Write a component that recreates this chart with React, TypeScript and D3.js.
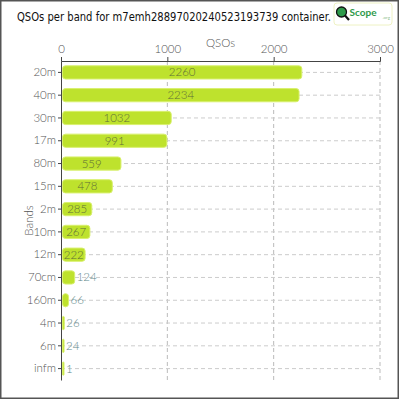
import * as d3 from 'd3';
import { useEffect, useRef } from 'react';

const BANDS = ['20m', '40m', '30m', '17m', '80m', '15m', '2m', '10m', '12m', '70cm', '160m', '4m', '6m', 'infm'];
const QSOS = [2260, 2234, 1032, 991, 559, 478, 285, 267, 222, 124, 66, 26, 24, 1];
const X_TICKS = [0, 1000, 2000, 3000];
const TITLE = 'QSOs per band for m7emh28897020240523193739 container.';

const WIDTH = 400;
const HEIGHT = 400;
const MARGINS = { top: 61, right: 20, bottom: 20, left: 61 };
const FONT = 'Lato, "Open Sans", sans-serif';
const TITLE_WIDTH = 314;

export default function App() {
  const xAxisRef = useRef<SVGGElement>(null);
  const yAxisRef = useRef<SVGGElement>(null);
  const titleRef = useRef<SVGTextElement>(null);

  const x = d3
    .scaleLinear()
    .domain([0, 3000])
    .range([MARGINS.left, WIDTH - MARGINS.right]);
  const y = d3
    .scaleBand()
    .domain(BANDS)
    .range([MARGINS.top, HEIGHT - MARGINS.bottom])
    .paddingInner(0.42)
    .paddingOuter(0.21);

  useEffect(() => {
    // squeeze the title into the space left of the logo
    const t = titleRef.current!;
    const len = t.getComputedTextLength();
    const k = len > 0 ? Math.min(1, TITLE_WIDTH / len) : 1;
    t.setAttribute('transform', `translate(17,21) scale(${k},1)`);

    const xa = d3.select(xAxisRef.current!);
    xa.call(d3.axisTop(x).tickValues(X_TICKS).tickSize(4).tickPadding(4).tickFormat(d3.format('d')));
    xa.select('.domain').attr('stroke', '#444');
    xa.selectAll('.tick line').attr('stroke', '#444');
    xa.selectAll('text')
      .attr('fill', '#555')
      .style('font-family', FONT)
      .style('font-weight', '300')
      .style('font-size', '11.5px');

    const ya = d3.select(yAxisRef.current!);
    ya.call(d3.axisLeft(y).tickSize(3).tickSizeOuter(0));
    ya.select('.domain').attr('stroke', '#444');
    ya.selectAll('.tick line').attr('stroke', '#444');
    ya.selectAll('text')
      .attr('fill', '#555')
      .attr('dx', '1')
      .style('font-family', FONT)
      .style('font-weight', '300')
      .style('font-size', '11.5px');
  });

  const x0 = x(0);
  const bottom = HEIGHT - MARGINS.bottom;

  return (
    <>
      <style>{`body{margin:0}`}</style>
      <svg width={WIDTH} height={HEIGHT} style={{ display: 'block' }}>
        <rect x={0} y={0} width={WIDTH} height={HEIGHT} fill="#fff" />
        <rect x={0.75} y={0.75} width={WIDTH - 2.5} height={HEIGHT - 2.5} fill="none" stroke="#555" strokeWidth={1.5} />

        <text
          ref={titleRef}
          transform="translate(17,21) scale(0.8,1)"
          fontFamily='"DejaVu Sans Condensed", "DejaVu Sans", sans-serif'
          fontSize={13}
          fill="#111"
        >
          {TITLE}
        </text>

        {/* logo */}
        <g transform="translate(334,3)">
          <rect x={0} y={0} width={58} height={22} rx={3} fill="#fff" stroke="#eef2c4" />
          <circle cx={7.5} cy={9} r={5} fill="#2e9a4a" stroke="#111" strokeWidth={1.3} />
          <line x1={11} y1={12.5} x2={15} y2={17} stroke="#111" strokeWidth={2.2} />
          <text x={15.5} y={13} fontFamily={FONT} fontWeight={700} fontSize={10} fill="#2e9a4a">
            Scope
          </text>
          <text x={48.5} y={16} fontFamily={FONT} fontSize={4.5} fill="#8ac08a">
            .org
          </text>
        </g>

        <text x={(x0 + x(3000)) / 2} y={47} textAnchor="middle" fontFamily={FONT} fontWeight={300} fontSize={11.5} fill="#555">
          QSOs
        </text>
        <text
          transform={`translate(33,${(MARGINS.top + bottom) / 2}) rotate(-90)`}
          textAnchor="middle"
          fontFamily={FONT}
          fontWeight={300}
          fontSize={11.5}
          fill="#555"
        >
          Bands
        </text>

        {/* grid */}
        {X_TICKS.slice(1).map((t) => (
          <line key={t} x1={x(t)} x2={x(t)} y1={MARGINS.top} y2={bottom} stroke="#bbb" strokeDasharray="4,3" />
        ))}
        {BANDS.map((b) => (
          <line
            key={b}
            x1={x0}
            x2={x(3000)}
            y1={y(b)! + y.bandwidth() / 2}
            y2={y(b)! + y.bandwidth() / 2}
            stroke="#ccc"
            strokeDasharray="4,3"
          />
        ))}

        {/* bars */}
        {BANDS.map((b, i) => {
          const w = Math.max(x(QSOS[i]) - x0 - 1, 1.5);
          return (
            <rect
              key={b}
              x={x0 + 1.5}
              y={y(b)}
              width={w}
              height={y.bandwidth()}
              rx={Math.min(3, w / 2)}
              fill="#bee22d"
              stroke="#d9f06e"
              strokeWidth={1}
            />
          );
        })}

        {BANDS.map((b, i) => {
          const w = Math.max(x(QSOS[i]) - x0 - 1, 1.5);
          const label = String(QSOS[i]);
          const inside = w > label.length * 6.5 + 2;
          return (
            <text
              key={b}
              x={inside ? x0 + 1.5 + w / 2 : x0 + 1.5 + w + 2}
              y={y(b)! + y.bandwidth() / 2}
              dy="0.35em"
              textAnchor={inside ? 'middle' : 'start'}
              fontFamily={FONT}
              fontWeight={300}
              fontSize={11.5}
              fill={inside ? '#5f6e38' : '#5f8a8c'}
            >
              {label}
            </text>
          );
        })}

        <g ref={xAxisRef} transform={`translate(0,${MARGINS.top})`} />
        <g ref={yAxisRef} transform={`translate(${x0},0)`} />
      </svg>
    </>
  );
}
